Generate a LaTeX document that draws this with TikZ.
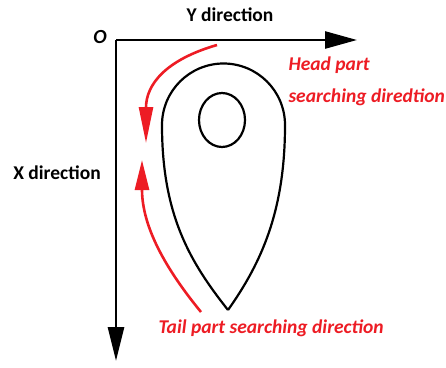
\documentclass[tikz,border=0pt]{standalone}
\usepackage{fontspec}
\setmainfont{Carlito}
\usepackage{tikz}
\usetikzlibrary{arrows.meta}
\usepackage{xcolor}
\definecolor{markred}{RGB}{237,28,36}

\begin{document}
\begin{tikzpicture}[x=1pt,y=-1pt]
    \useasboundingbox (0,0) rectangle (446,367);
    % axes
    \coordinate (O) at (116,40);
    \coordinate (yend) at (357,40);
    \coordinate (xend) at (116,361);
    \draw[line width=2.6pt, -{Triangle[length=32pt,width=17pt]}] (O) -- (yend);
    \draw[line width=2.6pt, -{Triangle[length=34pt,width=16pt]}] (O) -- (xend);
    \node[font=\bfseries\itshape\fontsize{20}{22}\selectfont] (olabel) at (100,37) {O};
    \node[font=\bfseries\fontsize{19.5}{21}\selectfont] (ylabel) at (230,15) {Y direction};
    \node[font=\bfseries\fontsize{19.5}{21}\selectfont] (xlabel) at (57,173) {X direction};
    % teardrop outline and hole
    \draw[line width=2.2pt] (228,310) .. controls (190,262) and (162,215) .. (162,125)
        arc[start angle=180, end angle=360, radius=61.5]
        .. controls (285,210) and (262,262) .. (228,310);
    \draw[line width=2.2pt] (222,120) ellipse[x radius=23, y radius=27];
    % search directions
    \draw[markred, line width=2.6pt, -{Triangle[length=36pt,width=14pt]}]
        (217,45) .. controls (165,60) and (146,85) .. (146,143);
    \draw[markred, line width=2.6pt, -{Triangle[length=30pt,width=14pt]}]
        (201,312) .. controls (160,262) and (142,222) .. (142,160);
    \node[markred, anchor=west, font=\bfseries\itshape\fontsize{19.5}{21}\selectfont] (headlabel) at (285,65) {Head part};
    \node[markred, anchor=west, font=\bfseries\itshape\fontsize{19.5}{21}\selectfont] (headlabel2) at (285,97) {searching diredtion};
    \node[markred, anchor=west, font=\bfseries\itshape\fontsize{19.5}{21}\selectfont] (taillabel) at (155,328) {Tail part searching direction};
\end{tikzpicture}
\end{document}
